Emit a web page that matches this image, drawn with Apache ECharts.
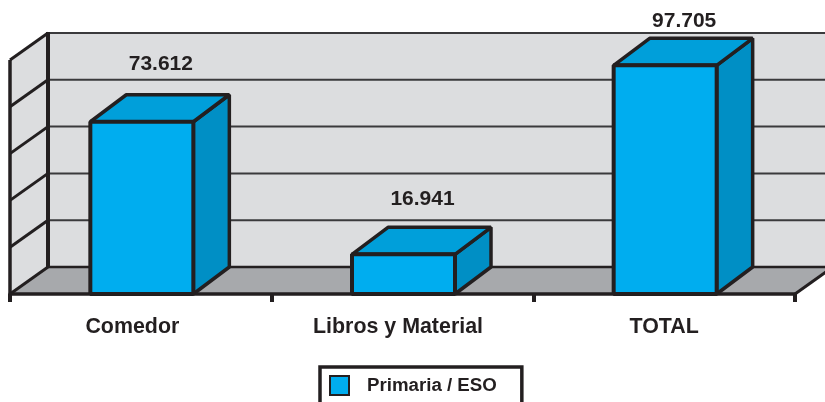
<!DOCTYPE html>
<html><head><meta charset="utf-8">
<style>html,body{margin:0;padding:0;background:#fff;overflow:hidden}#c{width:825px;height:402px}</style>
<script src="https://cdn.jsdelivr.net/npm/echarts@6/dist/echarts.min.js"></script>
</head><body><div id="c"></div>
<script>
const categories = ['Comedor', 'Libros y Material', 'TOTAL'];
const seriesName = 'Primaria / ESO';
const values = [73612, 16941, 97705];
const valueLabels = ['73.612', '16.941', '97.705'];
const yTicks = [0, 20000, 40000, 60000, 80000, 100000];

const INK = '#231F20', DX = 38, DY = -27, BAR_DX = 36, BAR_W = 103;
const labelLift = [58, 55, 44];
const labelPad = [[0, 17, 0, 0], [0, 9, 0, 0], [0, 0, 0, 0]];

function poly(points, fill, lw) {
  return { type: 'polygon', shape: { points }, style: { fill, stroke: INK, lineWidth: lw, lineJoin: 'bevel' } };
}
function line(a, b, lw, stroke) {
  return { type: 'line', shape: { x1: a[0], y1: a[1], x2: b[0], y2: b[1] }, style: { stroke: stroke || INK, lineWidth: lw, lineCap: 'butt' } };
}
function renderWalls(params, api) {
  const x0 = params.coordSys.x, x1 = x0 + params.coordSys.width;
  const y0 = api.coord([0, 0])[1], yT = api.coord([0, 100000])[1];
  const kids = [];
  kids.push({ type: 'polygon', shape: { points: [[x0 + DX, yT + DY], [x1 + DX, yT + DY], [x1 + DX, y0 + DY], [x0 + DX, y0 + DY]] }, style: { fill: '#DCDDDF' } });
  kids.push({ type: 'polygon', shape: { points: [[x0, yT], [x0 + DX, yT + DY], [x0 + DX, y0 + DY], [x0, y0]] }, style: { fill: '#DCDDDF' } });
  kids.push({ type: 'polygon', shape: { points: [[x0, y0], [x1, y0], [x1 + DX, y0 + DY], [x0 + DX, y0 + DY]] }, style: { fill: '#A7A9AC' } });
  yTicks.forEach(v => {
    const y = api.coord([0, v])[1];
    kids.push(line([x0 + DX, y + DY], [x1 + DX, y + DY], v === 0 ? 2.5 : 2, v === 0 ? INK : '#3A3A3C'));
    kids.push(line([x0, y], [x0 + DX, y + DY], 3));
  });
  kids.push(line([x0, yT], [x0, y0], 3.5));
  kids.push(line([x0 + DX, yT + DY - 1], [x0 + DX, y0 + DY], 4));
  kids.push(line([x1, y0], [x1 + DX, y0 + DY], 3));
  return { type: 'group', children: kids };
}
function renderBox(params, api) {
  const i = api.value(0);
  const top = api.coord([i, api.value(1)]), base = api.coord([i, 0]);
  const l = top[0] + 1 - BAR_W / 2, r = l + BAR_W, t = top[1], b = base[1];
  return { type: 'group', children: [
    poly([[r, t], [r + BAR_DX, t + DY], [r + BAR_DX, b + DY], [r, b]], '#008FC5', 3.5),
    poly([[l, t], [l + BAR_DX, t + DY], [r + BAR_DX, t + DY], [r, t]], '#009FDA', 3.5),
    poly([[l, t], [r, t], [r, b], [l, b]], '#00ADEF', 4),
    { type: 'text', style: { x: (l + r) / 2 + 19, y: t - labelLift[i], text: valueLabels[i], align: 'center', verticalAlign: 'middle',
      fontFamily: '"Liberation Sans", Arial, sans-serif', fontWeight: 'bold', fontSize: 21, fill: INK } }
  ] };
}

const chart = echarts.init(document.getElementById('c'), null, { renderer: 'canvas' });
chart.setOption({
  animation: false,
  backgroundColor: '#fff',
  grid: { left: 10, top: 60, width: 785, height: 234 },
  legend: {
    show: true, data: [{ name: seriesName, icon: 'rect' }],
    left: 320, top: 367, orient: 'horizontal',
    itemWidth: 19, itemHeight: 19, itemGap: 0,
    padding: [8, 25, 20, 9],
    backgroundColor: '#fff', borderColor: INK, borderWidth: 3.5,
    selectedMode: false,
    textStyle: { fontFamily: '"Liberation Sans", Arial, sans-serif', fontWeight: 'bold', fontSize: 18.7, color: INK, padding: [0, 0, 0, 13] }
  },
  xAxis: {
    type: 'category',
    data: categories.map((c, i) => ({ value: c, textStyle: { padding: labelPad[i] } })),
    axisLine: { show: true, lineStyle: { color: INK, width: 3.5 } },
    axisTick: { show: true, length: 8, alignWithLabel: false, lineStyle: { color: INK, width: 4 } },
    axisLabel: { margin: 23, interval: 0, fontFamily: '"Liberation Sans", Arial, sans-serif', fontWeight: 'bold', fontSize: 21.4, color: INK },
    z: 5
  },
  yAxis: {
    type: 'value', min: 0, max: 100000, interval: 20000,
    axisLine: { show: false }, axisTick: { show: false }, axisLabel: { show: false }, splitLine: { show: false }
  },
  series: [
    { type: 'custom', name: 'walls', renderItem: renderWalls, data: [[0, 0]], silent: true, z: 1, clip: false },
    { type: 'custom', name: seriesName, renderItem: renderBox, itemStyle: { color: '#00ADEF', borderColor: INK, borderWidth: 1 },
      encode: { x: 0, y: 1 }, data: values.map((v, i) => [i, v]), z: 10, clip: false }
  ]
});
</script></body></html>
